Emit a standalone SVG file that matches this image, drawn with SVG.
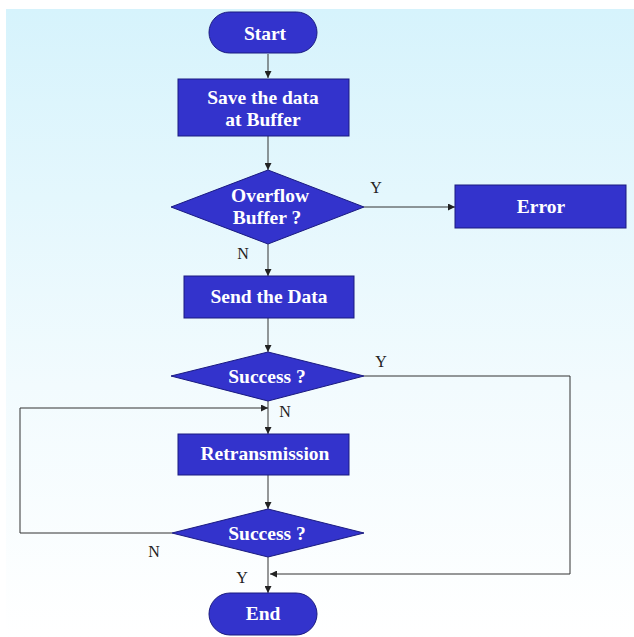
<svg xmlns="http://www.w3.org/2000/svg" width="634" height="637" viewBox="0 0 634 637">
<defs>
<linearGradient id="bg" x1="0" y1="0" x2="0" y2="1">
<stop offset="0" stop-color="#d6f3fc"/>
<stop offset="0.6" stop-color="#f2fbfe"/>
<stop offset="1" stop-color="#ffffff"/>
</linearGradient>
<marker id="ah" viewBox="0 0 10 10" refX="10" refY="5" markerWidth="7" markerHeight="7" markerUnits="userSpaceOnUse" orient="auto">
<path d="M0,0 L10,5 L0,10 z" fill="#222"/>
</marker>
<style>
.n{fill:#3333cc;stroke:#1a1a80;stroke-width:1}
.t{font-family:"Liberation Serif","Times New Roman",serif;font-weight:bold;font-size:19.5px;fill:#ffffff;text-anchor:middle}
.l{font-family:"Liberation Serif","Times New Roman",serif;font-size:16px;fill:#222;text-anchor:middle}
.c{fill:none;stroke:#333;stroke-width:1}
</style>
</defs>
<rect x="6" y="9" width="628" height="628" fill="url(#bg)"/>
<g id="connectors">
<line class="c" x1="268" y1="54" x2="268" y2="78" marker-end="url(#ah)"/>
<line class="c" x1="268" y1="136" x2="268" y2="170" marker-end="url(#ah)"/>
<line class="c" x1="364" y1="207" x2="455" y2="207" marker-end="url(#ah)"/>
<line class="c" x1="268" y1="244" x2="268" y2="276" marker-end="url(#ah)"/>
<line class="c" x1="268" y1="318" x2="268" y2="352" marker-end="url(#ah)"/>
<line class="c" x1="268" y1="401" x2="268" y2="434" marker-end="url(#ah)"/>
<polyline class="c" points="364,376 570,376 570,574 270,574" marker-end="url(#ah)"/>
<polyline class="c" points="172,533 20,533 20,408 268,408" marker-end="url(#ah)"/>
<line class="c" x1="268" y1="475" x2="268" y2="509" marker-end="url(#ah)"/>
<line class="c" x1="268" y1="557" x2="268" y2="593" marker-end="url(#ah)"/>
<text class="l" x="376" y="193">Y</text>
<text class="l" x="243" y="259">N</text>
<text class="l" x="381" y="367">Y</text>
<text class="l" x="285" y="417">N</text>
<text class="l" x="154" y="557">N</text>
<text class="l" x="242" y="583">Y</text>
</g>
<g id="start">
<rect class="n" x="209" y="12" width="108" height="41" rx="20.5"/>
<text class="t" x="265" y="40">Start</text>
</g>
<g id="save">
<rect class="n" x="178" y="79" width="171" height="57"/>
<text class="t" x="263" y="104">Save the data</text>
<text class="t" x="263" y="126">at Buffer</text>
</g>
<g id="overflow">
<polygon class="n" points="268,170 364,207 268,244 171,207"/>
<text class="t" x="270" y="202">Overflow</text>
<text class="t" x="267" y="224">Buffer ?</text>
</g>
<g id="error">
<rect class="n" x="455" y="185" width="171" height="43"/>
<text class="t" x="541" y="213">Error</text>
</g>
<g id="send">
<rect class="n" x="184" y="276" width="170" height="42"/>
<text class="t" x="269" y="303">Send the Data</text>
</g>
<g id="success1">
<polygon class="n" points="268,352 364,376 268,401 171,376"/>
<text class="t" x="267" y="383">Success ?</text>
</g>
<g id="retrans">
<rect class="n" x="178" y="434" width="171" height="41"/>
<text class="t" x="265" y="460">Retransmission</text>
</g>
<g id="success2">
<polygon class="n" points="268,509 364,533 268,557 172,533"/>
<text class="t" x="267" y="540">Success ?</text>
</g>
<g id="end">
<rect class="n" x="209" y="593" width="108" height="42" rx="21"/>
<text class="t" x="263" y="620">End</text>
</g>
</svg>
